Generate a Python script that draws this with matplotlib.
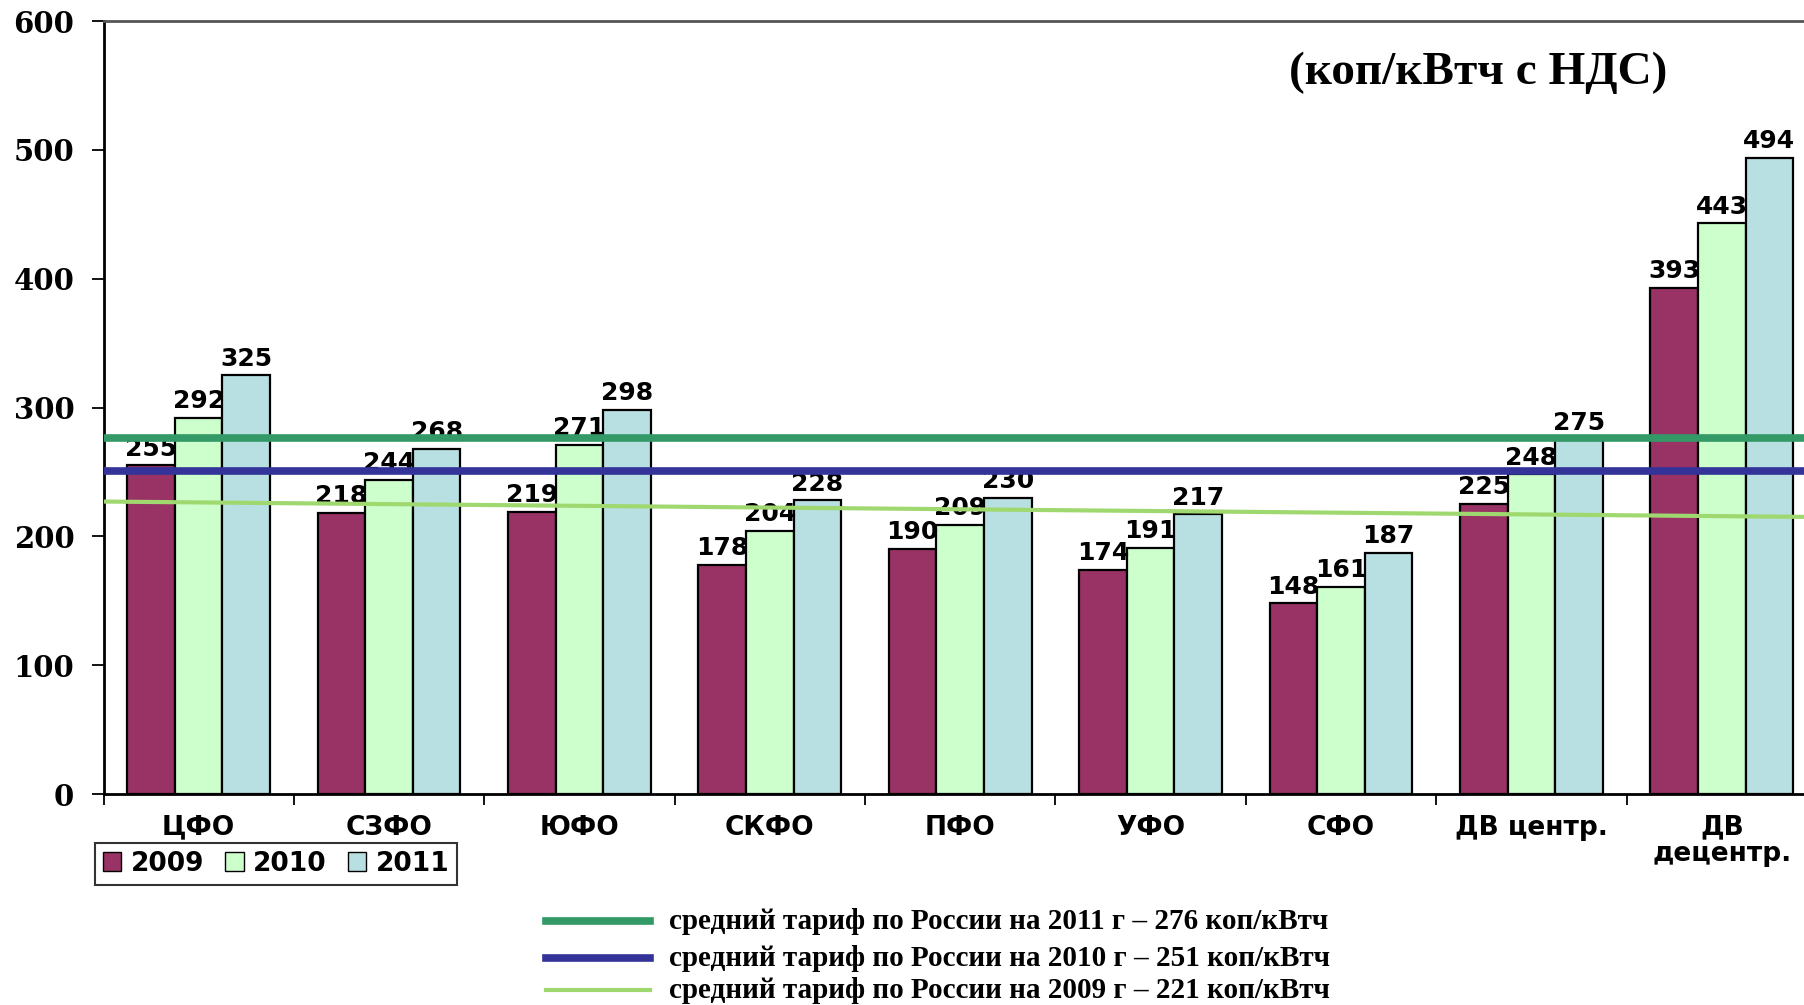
import numpy as np
import matplotlib.pyplot as plt
from matplotlib.lines import Line2D
from matplotlib.patches import Patch

# data
districts = ['ЦФО', 'СЗФО', 'ЮФО', 'СКФО', 'ПФО', 'УФО', 'СФО', 'ДВ центр.', 'ДВ\nдецентр.']
years = ['2009', '2010', '2011']
t2009 = [255, 218, 219, 178, 190, 174, 148, 225, 393]
t2010 = [292, 244, 271, 204, 209, 191, 161, 248, 443]
t2011 = [325, 268, 298, 228, 230, 217, 187, 275, 494]
avg_years = ['2011', '2010', '2009']
avg_values = [276, 251, 221]
line_2009_ends = [227, 215]   # the 2009 average line is drawn slightly tilted

bar_colors = ['#993366', '#CCFFCC', '#B8DFE1']
line_colors = ['#339966', '#333399', '#A0D870']

W, H = 1804, 1005
fig = plt.figure(figsize=(W / 100, H / 100), dpi=100)
ax = fig.add_axes([103.5 / W, 1 - 794 / H, (1817 - 103.5) / W, (794 - 21) / H])

x = np.arange(len(districts))
bw = 0.25
series = [t2009, t2010, t2011]
for i, vals in enumerate(series):
    pos = x + (i - 1) * bw
    ax.bar(pos, vals, bw, color=bar_colors[i], edgecolor='black', linewidth=1.6,
           zorder=2, label=years[i])
    for px, v in zip(pos, vals):
        ax.annotate(str(v), (px, v), xytext=(0, 7), textcoords='offset points',
                    ha='center', va='baseline', fontsize=18, fontweight='bold',
                    family='DejaVu Sans', zorder=3)

ax.set_xlim(-0.5, len(districts) - 0.5)
ax.set_ylim(0, 600)

# average tariff lines
ax.axhline(avg_values[0], color=line_colors[0], lw=5.5, zorder=4)
ax.axhline(avg_values[1], color=line_colors[1], lw=5.5, zorder=4)
ax.plot(ax.get_xlim(), line_2009_ends, color=line_colors[2], lw=3, zorder=4,
        solid_capstyle='butt')

# axes styling
ax.set_yticks(range(0, 601, 100))
ax.tick_params(axis='y', direction='out', length=9, width=1.3, pad=12)
for lab in ax.get_yticklabels():
    lab.set_fontfamily('DejaVu Serif')
    lab.set_fontweight('heavy')
    lab.set_fontsize(21)

ax.set_xticks(x)
ax.set_xticklabels(districts, fontsize=19, fontweight='bold', family='DejaVu Sans',
                   linespacing=1.0)
ax.tick_params(axis='x', length=0, pad=15)
ax.set_xticks(np.arange(len(districts) + 1) - 0.5, minor=True)
ax.tick_params(axis='x', which='minor', direction='out', length=8, width=1.3)

for s in ['left', 'bottom']:
    ax.spines[s].set_linewidth(2)
ax.spines['top'].set_color('#555555')
ax.spines['top'].set_linewidth(2)

# year legend
handles = [Patch(facecolor=c, edgecolor='black', linewidth=1) for c in bar_colors]
leg = fig.legend(handles, years, loc='upper left', bbox_to_anchor=(95 / W, 1 - 843 / H),
                 ncol=3, frameon=True, fancybox=False, borderaxespad=0,
                 handlelength=0.7, handleheight=0.7, handletextpad=0.35,
                 columnspacing=0.8, borderpad=0.3,
                 prop={'family': 'DejaVu Sans', 'weight': 'bold', 'size': 19})
leg.get_frame().set_edgecolor('black')
leg.get_frame().set_linewidth(1.5)

# subtitle
fig.text(1478 / W, 1 - 73 / H, '(коп/кВтч с НДС)', ha='center', va='center',
         fontsize=34, fontweight='bold', family='Liberation Serif')

# legend for average lines
row_y = [921, 958, 990]
widths = [5.5, 5.5, 3]
for yr, val, col, ry, lw in zip(avg_years, avg_values, line_colors, row_y, widths):
    fy = 1 - ry / H
    fig.add_artist(Line2D([546 / W, 650 / W], [fy, fy], color=col, lw=lw,
                          transform=fig.transFigure))
    fig.text(669 / W, fy, f'средний тариф по России на {yr} г – {val} коп/кВтч',
             ha='left', va='center', fontsize=21, fontweight='bold',
             family='Liberation Serif')

fig.savefig('out.png', dpi=100)
